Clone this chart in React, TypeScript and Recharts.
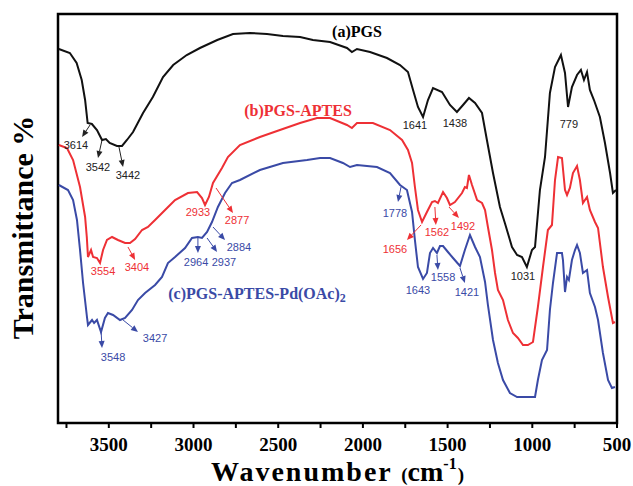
import React from "react";
import {
  LineChart,
  Line,
  XAxis,
  YAxis,
  Label,
  ReferenceDot,
  ReferenceLine,
  ReferenceArea,
} from "recharts";

// FTIR spectra, wavenumber (cm-1) vs transmittance (arbitrary units, offset curves)
const pgs: [number, number][] = [
  [3795, 374], [3730, 370], [3690, 360], [3660, 343], [3640, 323], [3625, 300],
  [3600, 299], [3570, 293], [3540, 283], [3517, 284], [3495, 280], [3452, 277],
  [3422, 277], [3393, 283], [3357, 291], [3298, 310], [3240, 326], [3180, 346],
  [3120, 358], [3040, 368], [2962, 375], [2860, 383], [2767, 389], [2667, 390],
  [2566, 389], [2472, 387], [2371, 386], [2295, 383], [2194, 381], [2094, 375],
  [2065, 371], [2035, 374], [1958, 371], [1858, 365], [1781, 358], [1734, 351],
  [1704, 333], [1675, 316], [1645, 306], [1616, 323], [1586, 335], [1533, 331],
  [1486, 318], [1445, 311], [1409, 318], [1374, 325], [1338, 320], [1297, 310],
  [1268, 283], [1232, 250], [1191, 216], [1162, 200], [1120, 176], [1090, 168],
  [1061, 166], [1032, 156], [1002, 173], [984, 176], [955, 233], [925, 266],
  [896, 330], [866, 356], [831, 368], [807, 350], [789, 316], [766, 336],
  [736, 348], [713, 353], [695, 343], [677, 351], [660, 333], [636, 323],
  [601, 306], [571, 280], [541, 250], [524, 230], [506, 233],
];

const pgsAptes: [number, number][] = [
  [3795, 278], [3747, 275], [3711, 263], [3670, 236], [3640, 206], [3630, 186],
  [3623, 166], [3605, 173], [3593, 166], [3570, 165], [3552, 160], [3534, 173],
  [3511, 183], [3481, 186], [3446, 183], [3404, 180], [3375, 180], [3345, 184],
  [3304, 193], [3269, 196], [3227, 203], [3168, 213], [3109, 223], [3033, 230],
  [2979, 231], [2950, 225], [2932, 218], [2909, 226], [2885, 240], [2832, 255],
  [2797, 266], [2726, 278], [2608, 286], [2490, 293], [2371, 300], [2271, 305],
  [2194, 305], [2094, 298], [2065, 295], [2035, 300], [1941, 300], [1840, 293],
  [1769, 283], [1734, 273], [1710, 260], [1693, 236], [1675, 213], [1651, 201],
  [1622, 211], [1592, 221], [1575, 222], [1557, 220], [1527, 231], [1504, 225],
  [1486, 218], [1457, 221], [1415, 230], [1398, 236], [1386, 235], [1374, 248],
  [1356, 238], [1326, 223], [1297, 220], [1279, 213], [1262, 196], [1238, 173],
  [1220, 150], [1203, 133], [1173, 123], [1144, 103], [1114, 90], [1085, 85],
  [1055, 78], [1026, 78], [996, 81], [967, 116], [937, 156], [908, 193],
  [884, 198], [866, 243], [848, 266], [825, 265], [807, 233], [795, 228],
  [778, 235], [760, 250], [736, 257], [719, 243], [701, 220], [677, 226],
  [660, 213], [630, 201], [612, 195], [583, 156], [553, 126], [524, 100],
  [512, 101],
];

const pgsAptesPd: [number, number][] = [
  [3795, 238], [3741, 233], [3711, 223], [3688, 203], [3670, 173], [3652, 140],
  [3629, 106], [3623, 98], [3599, 103], [3587, 100], [3570, 103], [3546, 91],
  [3523, 105], [3505, 110], [3475, 108], [3434, 103], [3404, 105], [3363, 113],
  [3328, 123], [3286, 130], [3227, 138], [3186, 146], [3151, 160], [3109, 166],
  [3050, 175], [3009, 185], [2974, 186], [2950, 185], [2920, 191], [2891, 201],
  [2856, 216], [2814, 230], [2773, 240], [2726, 243], [2608, 253], [2472, 260],
  [2330, 263], [2253, 265], [2194, 265], [2118, 260], [2076, 256], [2035, 258],
  [1917, 256], [1840, 250], [1781, 238], [1740, 233], [1710, 211], [1693, 183],
  [1675, 156], [1645, 144], [1622, 150], [1604, 170], [1586, 175], [1563, 170],
  [1545, 177], [1527, 177], [1498, 171], [1468, 165], [1427, 157], [1398, 173],
  [1368, 188], [1338, 176], [1309, 166], [1279, 141], [1262, 118], [1232, 83],
  [1203, 60], [1173, 43], [1132, 30], [1090, 26], [1032, 26], [984, 26],
  [967, 43], [943, 63], [913, 73], [896, 113], [878, 140], [854, 170],
  [825, 170], [819, 163], [807, 131], [795, 146], [784, 143], [766, 163],
  [748, 173], [736, 178], [719, 170], [701, 150], [677, 153], [660, 130],
  [630, 116], [612, 103], [583, 70], [553, 43], [530, 35], [512, 36],
];

const waveTicks = [
  500, 750, 1000, 1250, 1500, 1750, 2000, 2250, 2500, 2750, 3000, 3250, 3500, 3750,
];

type Note = {
  text: string;
  wn: number;
  t: number;
  from?: [number, number];
  to?: [number, number];
};

const pgsNotes: Note[] = [
  { text: "3614", wn: 3694, t: 278, from: [3611, 298], to: [3658, 286] },
  { text: "3542", wn: 3564, t: 256, from: [3540, 283], to: [3564, 265] },
  { text: "3442", wn: 3387, t: 248, from: [3440, 276], to: [3416, 256] },
  { text: "1641", wn: 1693, t: 298 },
  { text: "1438", wn: 1457, t: 300 },
  { text: "779", wn: 784, t: 299 },
  { text: "1031", wn: 1055, t: 147 },
];

const aptesNotes: Note[] = [
  { text: "3554", wn: 3534, t: 152 },
  { text: "3404", wn: 3334, t: 156, from: [3387, 176], to: [3345, 163] },
  { text: "2933", wn: 2974, t: 211 },
  { text: "2877", wn: 2743, t: 203, from: [2867, 235], to: [2767, 210] },
  { text: "1656", wn: 1811, t: 174, from: [1657, 198], to: [1740, 183] },
  { text: "1562", wn: 1563, t: 191, from: [1575, 216], to: [1569, 198] },
  { text: "1492", wn: 1409, t: 197, from: [1492, 216], to: [1433, 205] },
];

const pdNotes: Note[] = [
  { text: "3548", wn: 3475, t: 66, from: [3546, 93], to: [3540, 75] },
  { text: "3427", wn: 3227, t: 85, from: [3416, 103], to: [3328, 91] },
  { text: "2964", wn: 2985, t: 161, from: [2974, 185], to: [2974, 170] },
  { text: "2937", wn: 2820, t: 161, from: [2920, 185], to: [2861, 171] },
  { text: "2884", wn: 2732, t: 176, from: [2885, 196], to: [2814, 183] },
  { text: "1778", wn: 1811, t: 210, from: [1775, 236], to: [1793, 221] },
  { text: "1643", wn: 1675, t: 133 },
  { text: "1558", wn: 1527, t: 146, from: [1563, 168], to: [1557, 153] },
  { text: "1421", wn: 1386, t: 131, from: [1427, 155], to: [1398, 140] },
];

const SERIF = '"Liberation Serif", "Times New Roman", serif';
const SANS = '"Liberation Sans", Arial, sans-serif';
const BLACK = "#111111";
const RED = "#ee3035";
const BLUE = "#3a4aa6";

const toRows = (pts: [number, number][]) => pts.map(([wn, t]) => ({ wn, t }));

function Arrow(props: any) {
  const { x1, y1, x2, y2, color } = props;
  const ang = Math.atan2(y2 - y1, x2 - x1);
  const len = 7;
  const half = 3;
  const bx = x2 - len * Math.cos(ang);
  const by = y2 - len * Math.sin(ang);
  const pts = [
    `${x2},${y2}`,
    `${bx - half * Math.sin(ang)},${by + half * Math.cos(ang)}`,
    `${bx + half * Math.sin(ang)},${by - half * Math.cos(ang)}`,
  ].join(" ");
  return (
    <g>
      <line x1={x1} y1={y1} x2={bx} y2={by} stroke={color} strokeWidth={1} />
      <polygon points={pts} fill={color} />
    </g>
  );
}

function XTitle(props: any) {
  const vb = props.viewBox || { x: 57, y: 423, width: 560, height: 30 };
  const cx = vb.x + vb.width / 2;
  const y = vb.y + 58;
  return (
    <text x={cx} y={y} textAnchor="middle" fontFamily={SERIF} fontWeight="bold" fill="#000">
      <tspan fontSize={28} letterSpacing={2}>Wavenumber </tspan>
      <tspan fontSize={19}>(</tspan>
      <tspan fontSize={28}>cm</tspan>
      <tspan fontSize={16} dy={-12}>-1</tspan>
      <tspan fontSize={19} dy={12} dx={1}>)</tspan>
    </text>
  );
}

function YTitle(props: any) {
  const vb = props.viewBox || { x: 57, y: 14, width: 1, height: 409 };
  const x = vb.x + vb.width - 25;
  const y = vb.y + vb.height / 2 + 9;
  return (
    <text
      x={x}
      y={y}
      transform={`rotate(-90, ${x}, ${y})`}
      textAnchor="middle"
      fontFamily={SERIF}
      fontWeight="bold"
      fontSize={30}
      fill="#000"
    >
      Transmittance %
    </text>
  );
}

function renderNotes(notes: Note[], color: string, key: string) {
  const out: React.ReactNode[] = [];
  notes.forEach((n, i) => {
    if (n.from && n.to) {
      out.push(
        <ReferenceLine
          key={`${key}-a-${i}`}
          segment={[
            { x: n.from[0], y: n.from[1] },
            { x: n.to[0], y: n.to[1] },
          ]}
          shape={(p: any) => <Arrow {...p} color={color} />}
        />,
      );
    }
    out.push(
      <ReferenceDot
        key={`${key}-t-${i}`}
        x={n.wn}
        y={n.t}
        r={0}
        shape={(p: any) => (
          <text
            x={p.cx}
            y={p.cy}
            textAnchor="middle"
            dominantBaseline="central"
            fontFamily={SANS}
            fontSize={11}
            fill={color}
          >
            {n.text}
          </text>
        )}
      />,
    );
  });
  return out;
}

function SeriesName(props: any) {
  const { cx, cy, color, sub, children } = props;
  return (
    <text
      x={cx}
      y={cy}
      textAnchor="middle"
      dominantBaseline="central"
      fontFamily={SERIF}
      fontWeight="bold"
      fontSize={16}
      fill={color}
    >
      {children}
      {sub ? (
        <tspan fontSize={12} dy={5}>
          {sub}
        </tspan>
      ) : null}
    </text>
  );
}

export default function App() {
  return (
    <div style={{ position: "absolute", left: 0, top: 0, background: "#fff" }}>
      <LineChart
        width={633}
        height={486}
        margin={{ top: 14, right: 16, bottom: 33, left: 57 }}
      >
        <XAxis
          type="number"
          dataKey="wn"
          domain={[500, 3800]}
          reversed
          allowDataOverflow
          ticks={waveTicks}
          interval={0}
          height={30}
          tickSize={5}
          tickMargin={10}
          tickFormatter={(v) => (v % 500 === 0 ? String(v) : "")}
          tick={{ fontFamily: SERIF, fontWeight: "bold", fontSize: 19, fill: "#000" }}
          axisLine={false}
          tickLine={{ stroke: "#000", strokeWidth: 2 }}
          label={<Label content={<XTitle />} />}
        />
        <YAxis
          type="number"
          domain={[0, 409]}
          allowDataOverflow
          width={1}
          tick={false}
          tickLine={false}
          axisLine={false}
          label={<Label content={<YTitle />} />}
        />

        <ReferenceArea
          x1={3800}
          x2={500}
          y1={0}
          y2={409}
          fill="none"
          fillOpacity={0}
          stroke="#000"
          strokeWidth={2.5}
          strokeOpacity={1}
        />

        <Line
          data={toRows(pgs)}
          dataKey="t"
          type="linear"
          stroke={BLACK}
          strokeWidth={2}
          dot={false}
          isAnimationActive={false}
        />
        <Line
          data={toRows(pgsAptes)}
          dataKey="t"
          type="linear"
          stroke={RED}
          strokeWidth={2}
          dot={false}
          isAnimationActive={false}
        />
        <Line
          data={toRows(pgsAptesPd)}
          dataKey="t"
          type="linear"
          stroke={BLUE}
          strokeWidth={2}
          dot={false}
          isAnimationActive={false}
        />

        {renderNotes(pgsNotes, "#222222", "a")}
        {renderNotes(aptesNotes, RED, "b")}
        {renderNotes(pdNotes, BLUE, "c")}

        <ReferenceDot
          x={2035}
          y={392}
          r={0}
          shape={(p: any) => (
            <SeriesName {...p} color="#000">(a)PGS</SeriesName>
          )}
        />
        <ReferenceDot
          x={2383}
          y={313}
          r={0}
          shape={(p: any) => (
            <SeriesName {...p} color={RED}>(b)PGS-APTES</SeriesName>
          )}
        />
        <ReferenceDot
          x={2625}
          y={130}
          r={0}
          shape={(p: any) => (
            <SeriesName {...p} color={BLUE} sub="2">
              (c)PGS-APTES-Pd(OAc)
            </SeriesName>
          )}
        />
      </LineChart>
    </div>
  );
}
